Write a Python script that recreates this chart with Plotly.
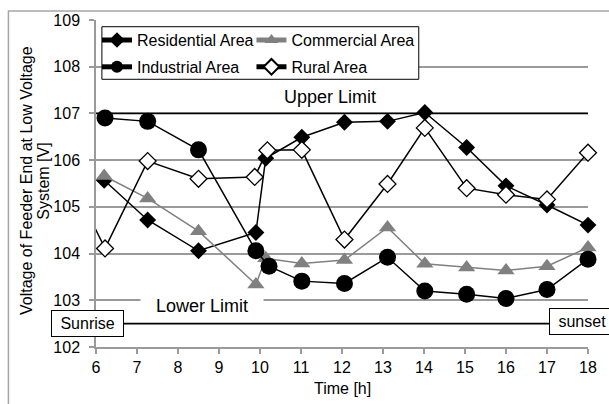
import plotly.graph_objects as go

# ---- data ----
RES_TIME = [6.2, 7.26, 8.5, 9.9, 10.14, 11.02, 12.06, 13.11, 14.02, 15.04, 16.0, 17.0, 18.0]
RES_V = [105.57, 104.72, 104.06, 104.45, 106.04, 106.49, 106.81, 106.83, 107.02, 106.27, 105.45, 105.04, 104.61]

COM_TIME = [6.2, 7.26, 8.5, 9.9, 10.14, 11.02, 12.06, 13.11, 14.02, 15.04, 16.0, 17.0, 18.0]
COM_V = [105.66, 105.18, 104.48, 103.34, 103.9, 103.79, 103.86, 104.56, 103.78, 103.7, 103.64, 103.73, 104.13]

IND_TIME = [6.22, 7.26, 8.5, 9.9, 10.22, 11.02, 12.06, 13.11, 14.02, 15.04, 16.0, 17.0, 18.0]
IND_V = [106.9, 106.83, 106.22, 104.06, 103.73, 103.41, 103.36, 103.92, 103.2, 103.13, 103.04, 103.23, 103.88]

RUR_TIME = [5.9, 6.22, 7.26, 8.5, 9.87, 10.18, 11.02, 12.06, 13.11, 14.02, 15.04, 16.0, 17.0, 18.0]
RUR_V = [104.68, 104.11, 105.98, 105.60, 105.64, 106.21, 106.22, 104.30, 105.49, 106.69, 105.40, 105.26, 105.16, 106.16]

UPPER_LIMIT = 107.0
LOWER_LIMIT = 102.5
X_RANGE = [6, 18]
Y_RANGE = [102, 109]
X_TICKS = list(range(6, 19))
Y_TICKS = list(range(102, 110))

Y_TITLE_LINES = ["Voltage of Feeder End at Low Voltage", "System [V]"]
X_TITLE = "Time [h]"

FONT = "Liberation Sans, Arial, sans-serif"
GRID = "#9a9a9a"
GREY = "#808080"

fig = go.Figure()

# limit lines
for lim in (UPPER_LIMIT, LOWER_LIMIT):
    fig.add_trace(go.Scatter(x=X_RANGE, y=[lim, lim], mode="lines",
                             line=dict(color="black", width=1.6),
                             showlegend=False, hoverinfo="skip"))

series = [
    ("Residential Area", RES_TIME, RES_V,
     dict(symbol="diamond", size=13, color="black", line=dict(width=0)), "black", "legend", "g1"),
    ("Commercial Area", COM_TIME, COM_V,
     dict(symbol="triangle-up", size=15, color=GREY, line=dict(width=0)), GREY, "legend2", "g2"),
    ("Industrial Area", IND_TIME, IND_V,
     dict(symbol="circle", size=17, color="black", line=dict(width=0)), "black", "legend", "g3"),
    ("Rural Area", RUR_TIME, RUR_V,
     dict(symbol="diamond", size=13, color="white", line=dict(color="black", width=1.3)), "black", "legend2", "g4"),
]
for name, xs, ys, marker, lcol, leg, grp in series:
    fig.add_trace(go.Scatter(x=xs, y=ys, name=name, mode="lines+markers",
                             line=dict(color=lcol, width=1.5), marker=marker,
                             cliponaxis=False, legend=leg, legendgroup=grp))

legend_common = dict(yanchor="top", xanchor="left", bgcolor="rgba(0,0,0,0)", borderwidth=0,
                     font=dict(family=FONT, size=16, color="black"), itemsizing="constant",
                     tracegroupgap=3, traceorder="grouped")

fig.update_layout(
    width=609, height=404,
    margin=dict(l=96, r=13, t=20, b=57),
    paper_bgcolor="white", plot_bgcolor="white",
    font=dict(family=FONT, size=16, color="black"),
    xaxis=dict(range=X_RANGE, tickvals=X_TICKS, showgrid=False, zeroline=False,
               showline=True, linecolor=GRID, linewidth=1.5,
               ticks="outside", ticklen=5, tickcolor=GRID, tickwidth=1.5,
               tickfont=dict(size=16, color="black")),
    yaxis=dict(range=Y_RANGE, tickvals=Y_TICKS, showgrid=True, gridcolor=GRID, gridwidth=1.5,
               zeroline=False, showline=True, linecolor=GRID, linewidth=1.5,
               ticks="outside", ticklen=5, tickcolor=GRID, tickwidth=1.5,
               ticklabelstandoff=6, tickfont=dict(size=16, color="black")),
    legend=dict(x=0.002, y=0.9905, **legend_common),
    legend2=dict(x=0.316, y=0.9905, **legend_common),
    showlegend=True,
)

# outer chart frame and legend box
fig.add_shape(type="rect", xref="paper", yref="paper", x0=-0.178, x1=1.05, y0=-0.2, y1=1.0275,
              line=dict(color="#a6a6a6", width=1.5), fillcolor="rgba(0,0,0,0)", layer="above")
fig.add_shape(type="rect", xref="paper", yref="paper", x0=0.012, x1=0.656, y0=0.8187, y1=0.9795,
              line=dict(color="black", width=1), fillcolor="white", layer="above")

annotations = [
    dict(text=Y_TITLE_LINES[0], xref="paper", yref="paper", xanchor="center", yanchor="middle",
         x=-0.14, y=0.508, textangle=-90, showarrow=False, font=dict(size=16)),
    dict(text=Y_TITLE_LINES[1], xref="paper", yref="paper", xanchor="center", yanchor="middle",
         x=-0.106, y=0.508, textangle=-90, showarrow=False, font=dict(size=16)),
    dict(text=X_TITLE, xref="paper", yref="paper", x=0.5, y=-0.1254, xanchor="center", yanchor="middle",
         showarrow=False, font=dict(size=16)),
    dict(text="Upper Limit", xref="x", yref="y", x=11.71, y=107.36, showarrow=False,
         font=dict(size=18)),
    dict(text="\u00a0\u00a0\u00a0Lower Limit\u00a0\u00a0\u00a0", xref="x", yref="y", x=8.59, y=102.87,
         showarrow=False, font=dict(size=18), bgcolor="white", borderpad=0),
    dict(text="\u00a0Sunrise\u00a0", xref="x", yref="y", x=X_RANGE[0], y=LOWER_LIMIT, xshift=-9,
         showarrow=False, font=dict(size=16), bgcolor="white", bordercolor="black",
         borderwidth=1, borderpad=4),
    dict(text="\u00a0sunset\u00a0", xref="x", yref="y", x=X_RANGE[1], y=LOWER_LIMIT, xshift=-6, yshift=2,
         showarrow=False, font=dict(size=16), bgcolor="white", bordercolor="black",
         borderwidth=1, borderpad=4),
]
for a in annotations:
    fig.add_annotation(**a)

fig.write_html("out.html", post_script="document.body.style.margin='0';",
               config={"displayModeBar": False})
